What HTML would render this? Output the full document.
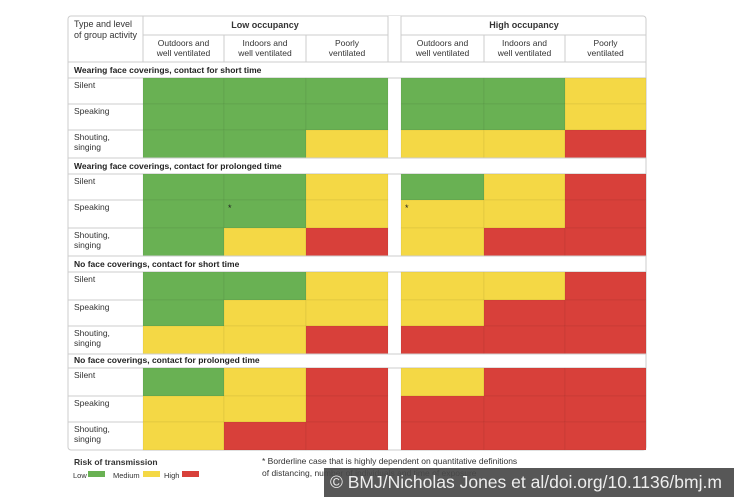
<!DOCTYPE html>
<html><head><meta charset="utf-8"><style>
body{margin:0;background:#fff;width:734px;height:497px;overflow:hidden;font-family:"Liberation Sans",sans-serif}
svg{position:absolute;left:0;top:0}
</style></head><body>
<svg id="c" width="734" height="497" font-family="Liberation Sans, sans-serif"></svg>
<script>
const sections=["Wearing face coverings, contact for short time","Wearing face coverings, contact for prolonged time","No face coverings, contact for short time","No face coverings, contact for prolonged time"];
const activities=[["Silent"],["Speaking"],["Shouting,","singing"]];
const columns=[["Outdoors and","well ventilated"],["Indoors and","well ventilated"],["Poorly","ventilated"]];
const occupancy=["Low occupancy","High occupancy"];
// 0 low, 1 medium, 2 high ; 6 columns per row
const risk=[
[[0,0,0,0,0,1],[0,0,0,0,0,1],[0,0,1,1,1,2]],
[[0,0,1,0,1,2],[0,0,1,1,1,2],[0,1,2,1,2,2]],
[[0,0,1,1,1,2],[0,1,1,1,2,2],[1,1,2,2,2,2]],
[[0,1,2,1,2,2],[1,1,2,2,2,2],[1,2,2,2,2,2]]];
const borderline=[[1,1,1],[1,1,3]];
const colors=["#69b153","#f4d845","#d8403a"];
const svg=document.getElementById('c');const NS="http://www.w3.org/2000/svg";
function el(t,a,p){const e=document.createElementNS(NS,t);for(const k in a)e.setAttribute(k,a[k]);(p||svg).appendChild(e);return e;}
function txt(s,x,y,o){const e=el('text',Object.assign({x:x,y:y,'font-size':9,fill:'#333'},o||{}));e.textContent=s;return e;}
const colX=[143,224,306,401,484,565],colW=[81,82,82,83,81,81];
const secY=[62,158,256,352],secH=16;
const rowH=[[26,26,28],[26,28,28],[28,26,28],[28,26,28]];
let f=el('rect',{x:68,y:16,width:578,height:434,fill:'none',stroke:'#ccc','stroke-width':1,rx:3});

el('rect',{x:388,y:16,width:13,height:46,fill:'#fff'});
el('line',{x1:68,y1:62,x2:646,y2:62,stroke:'#ccc'});
el('line',{x1:143,y1:35,x2:388,y2:35,stroke:'#ccc'});el('line',{x1:401,y1:35,x2:646,y2:35,stroke:'#ccc'});
el('line',{x1:143,y1:16,x2:143,y2:62,stroke:'#ccc'});el('line',{x1:388,y1:16,x2:388,y2:62,stroke:'#ccc'});el('line',{x1:401,y1:16,x2:401,y2:62,stroke:'#ccc'});
let t=txt("Type and level",74,27);
txt("of group activity",74,38);
occupancy.forEach((o,i)=>{const e=txt(o,i?524:265,28,{'text-anchor':'middle','font-weight':'bold','font-size':9});});
for(let c=0;c<6;c++){
 if(c%3) el('line',{x1:colX[c],y1:35,x2:colX[c],y2:62,stroke:'#ccc'});
 columns[c%3].forEach((s,j)=>{const e=txt(s,colX[c]+colW[c]/2,46+j*10,{'text-anchor':'middle','font-size':8.5});});
}
sections.forEach((s,si)=>{
 const e=txt(s,74,secY[si]+11,{'font-weight':'bold','font-size':8.5,fill:'#222'});
 
 el('line',{x1:68,y1:secY[si]+secH,x2:646,y2:secY[si]+secH,stroke:'#ccc'});
 let y=secY[si]+secH;
 activities.forEach((a,ai)=>{
  const h=rowH[si][ai];
  a.forEach((l,j)=>{const r=txt(l,74,y+10+j*10,{'font-size':8.5});});
  for(let c=0;c<6;c++){
   const r=el('rect',{x:colX[c],y:y,width:colW[c],height:h,fill:colors[risk[si][ai][c]],stroke:'rgba(0,0,0,0.08)','stroke-width':0.6});
   
  }
  if(ai<2) el('line',{x1:68,y1:y+h,x2:143,y2:y+h,stroke:'#ccc'});
  y+=h;
 });
 if(si<3) el('line',{x1:68,y1:y,x2:646,y2:y,stroke:'#ccc'});
});
borderline.forEach(([si,ai,c])=>{const y=secY[si]+secH+rowH[si].slice(0,ai).reduce((a,b)=>a+b,0);txt("*",colX[c]+4,y+11,{'font-size':9,fill:'#222'});});
let lt=txt("Risk of transmission",74,465,{'font-weight':'bold','font-size':8.5});
const legLabels=["Low","Medium","High"],legX=[73,113,164],swX=[88,143,182];
legLabels.forEach((l,i)=>{const e=txt(l,legX[i],478,{'font-size':7.5});
 const s=el('rect',{x:swX[i],y:471,width:17,height:6,fill:colors[i]});});
txt("* Borderline case that is highly dependent on quantitative definitions",262,464,{'font-size':8.5});
txt("of distancing, number of individuals and time of exposure",262,476,{'font-size':8.5});
const wm=el('rect',{x:324,y:468,width:410,height:29,fill:'#4a4a4a',opacity:0.93});
const wt=txt("© BMJ/Nicholas Jones et al/doi.org/10.1136/bmj.m",330,488,{'font-size':17.5,fill:'#eee'});
</script>
</body></html>
